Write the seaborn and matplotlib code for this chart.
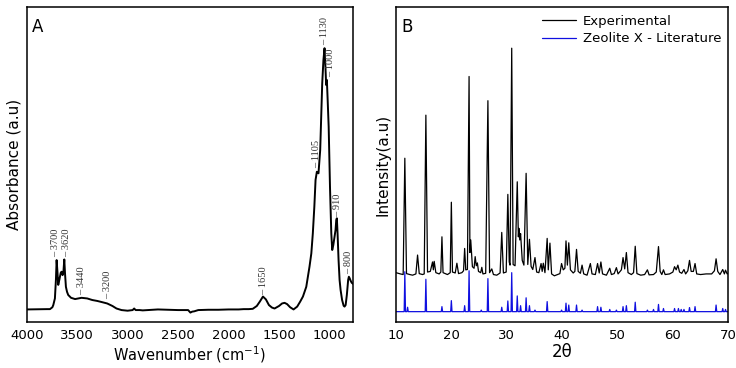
import numpy as np
import pandas as pd
import matplotlib
matplotlib.use("Agg")
import matplotlib.pyplot as plt
import seaborn as sns

# FTIR spectrum (panel A)
ftir_wn = [4000, 3800, 3769, 3745, 3736, 3720, 3710, 3703, 3695, 3687, 3675, 3662,
           3654, 3644, 3635, 3627, 3620, 3611, 3600, 3588, 3560, 3520, 3456, 3400,
           3350, 3300, 3250, 3202, 3150, 3110, 3060, 3000, 2950, 2935, 2920, 2880,
           2850, 2800, 2700, 2600, 2500, 2400, 2378, 2360, 2340, 2300, 2200, 2100,
           2000, 1900, 1850, 1800, 1760, 1720, 1690, 1659, 1630, 1600, 1570, 1544,
           1500, 1470, 1445, 1420, 1390, 1356, 1320, 1290, 1263, 1230, 1198, 1180,
           1165, 1150, 1138, 1125, 1116, 1109, 1092, 1072, 1060, 1049, 1040, 1033,
           1026, 1018, 1008, 995, 982, 973, 962, 950, 940, 933, 927, 920, 910, 900,
           890, 875, 860, 851, 840, 828, 815, 808, 800, 790, 780, 765]
ftir_abs = [3.9, 4.0, 4.0, 4.6, 5.3, 7.4, 13.3, 19.6, 15.9, 11.7, 13.5, 15.6,
            15.9, 14.8, 16.2, 19.8, 15.4, 11.1, 9.5, 8.5, 7.6, 7.2, 7.6, 7.4,
            6.9, 6.6, 6.2, 5.8, 5.0, 4.2, 3.7, 3.5, 3.7, 4.2, 3.7, 3.7,
            3.6, 3.7, 3.9, 3.8, 3.7, 3.7, 2.9, 3.2, 3.3, 3.7, 3.8, 3.8,
            3.9, 3.9, 4.0, 4.0, 4.1, 5.0, 6.4, 8.0, 7.1, 5.3, 4.5, 4.2,
            5.0, 5.8, 6.0, 5.6, 4.6, 3.9, 4.8, 6.4, 8.0, 11.1, 17.5, 21.7,
            28.1, 36.6, 45.1, 47.7, 47.4, 47.2, 54.6, 75.8, 83.2, 87.0, 80.9, 75.3,
            76.9, 70.5, 62.0, 42.9, 28.1, 22.8, 24.4, 27.0, 29.2, 32.3, 32.9, 28.1, 19.6, 13.3,
            10.1, 6.9, 5.1, 4.8, 5.3, 8.5, 13.3, 14.3, 13.8, 13.0, 12.4, 12.0]

ftir_labels = ["3700", "3620", "3440", "3200", "1650", "1105", "1130", "1000", "910", "800"]
ftir_label_wn = [3715, 3608, 3456, 3202, 1649, 1132, 1049, 990, 917, 808]
ftir_label_abs = [20.5, 20.7, 8.5, 7.1, 8.5, 48.8, 88.0, 77.7, 33.4, 15.2]

# XRD pattern (panel B), experimental
exp_2theta = [10.0, 10.8, 11.3, 11.6, 11.9, 12.5, 13.0, 13.6, 13.9, 14.2, 14.8, 15.1,
              15.4, 15.7, 16.2, 16.6, 16.75, 16.9, 17.2, 17.8, 18.1, 18.3, 18.5, 19.3,
              19.8, 20.0, 20.2, 20.7, 21.0, 21.3, 21.9, 22.2, 22.4, 22.6, 22.9, 23.2,
              23.35, 23.5, 23.8, 24.1, 24.3, 24.5, 24.7, 24.9, 25.3, 25.5, 25.7, 26.2,
              26.6, 26.9, 27.3, 27.6, 28.2, 28.8, 29.1, 29.4, 29.9, 30.2, 30.45, 30.6,
              30.9, 31.15, 31.5, 31.9, 32.1, 32.2, 32.35, 32.5, 32.8, 33.1, 33.5, 33.8,
              34.1, 34.4, 34.7, 35.1, 35.4, 35.8, 36.2, 36.4, 36.6, 36.9, 37.3, 37.5,
              37.8, 38.1, 38.6, 39.2, 39.6, 39.9, 40.2, 40.5, 40.7, 40.95, 41.2, 41.5,
              42.0, 42.3, 42.6, 42.9, 43.3, 43.6, 43.9, 44.5, 45.1, 45.4, 46.0, 46.4,
              46.7, 47.0, 47.3, 48.0, 48.6, 48.9, 49.4, 49.8, 50.1, 50.7, 51.0, 51.3,
              51.6, 51.9, 52.5, 52.9, 53.2, 53.5, 54.2, 54.9, 55.4, 55.7, 56.5, 57.0,
              57.4, 57.7, 58.0, 58.3, 58.6, 59.4, 60.0, 60.3, 60.6, 60.9, 61.2, 61.6,
              62.0, 62.3, 62.7, 63.0, 63.3, 63.7, 64.0, 64.3, 65.0, 66.0, 67.0, 67.5,
              67.8, 68.1, 68.5, 69.0, 69.3, 69.5, 69.8, 70.0]
exp_counts = [15.6, 15.2, 15.0, 52.0, 15.3, 15.0, 14.8, 15.2, 21.2, 15.3, 15.0, 15.2,
              65.7, 15.8, 16.0, 19.0, 16.5, 19.2, 15.6, 15.2, 15.8, 27.0, 15.6, 15.0,
              15.6, 38.0, 15.8, 15.5, 18.6, 15.3, 15.6, 16.2, 23.3, 16.5, 16.6, 78.0,
              22.0, 26.0, 17.5, 17.0, 20.7, 17.8, 18.7, 16.0, 15.6, 17.3, 15.2, 15.4,
              70.3, 15.6, 16.8, 15.0, 14.8, 15.5, 28.4, 15.5, 15.8, 40.5, 19.0, 18.0,
              87.0, 18.2, 17.8, 44.5, 27.0, 29.7, 26.0, 28.0, 19.5, 18.0, 47.2, 18.2,
              26.2, 17.6, 16.6, 20.4, 15.8, 15.6, 18.5, 16.0, 18.6, 15.6, 26.5, 16.5,
              25.0, 15.2, 14.6, 15.0, 15.3, 18.5, 16.5, 17.0, 25.7, 18.0, 25.1, 16.5,
              15.5, 16.0, 23.0, 16.0, 15.4, 18.0, 15.2, 14.8, 18.5, 15.2, 15.0, 18.5,
              15.5, 19.0, 15.2, 14.8, 17.0, 15.0, 15.3, 17.2, 15.2, 16.5, 20.4, 16.8,
              22.0, 15.6, 15.0, 15.6, 24.0, 15.3, 14.8, 15.0, 16.5, 14.9, 15.0, 15.8,
              23.9, 16.0, 15.0, 16.5, 15.0, 15.2, 15.8, 17.5, 16.5, 18.0, 15.8, 15.4,
              16.6, 15.2, 16.2, 19.5, 16.0, 16.0, 18.5, 15.2, 15.0, 15.2, 15.2, 16.2,
              20.0, 16.0, 15.0, 16.6, 15.2, 16.4, 15.2, 15.4]

# Zeolite X reference pattern (sticks)
lit_peak_2theta = [11.6, 12.1, 15.4, 18.3, 20.0, 22.4, 23.2, 25.4, 26.6, 29.1, 30.2, 30.9,
                   31.9, 32.5, 33.5, 34.1, 35.1, 37.3, 39.9, 40.7, 41.2, 42.6, 43.6, 46.4,
                   47.0, 48.6, 49.8, 51.0, 51.6, 53.2, 55.4, 56.5, 57.4, 58.3, 60.3, 61.0,
                   61.5, 62.0, 63.0, 64.0, 67.8, 69.0, 69.5]
lit_peak_counts = [15.9, 4.6, 13.5, 4.8, 6.7, 5.1, 16.2, 3.7, 13.7, 4.6, 6.6, 15.6,
                   8.2, 5.1, 7.6, 5.1, 3.7, 6.4, 3.7, 5.9, 5.3, 5.3, 3.7, 4.8,
                   4.6, 3.9, 3.7, 4.8, 5.1, 6.2, 3.7, 3.9, 5.5, 4.2, 4.2, 4.2,
                   3.9, 3.9, 4.5, 4.8, 5.3, 4.2, 3.9]
lit_base = 3.2

sns.set_style("white")
plt.rcParams["font.family"] = ["DejaVu Sans"]
plt.rcParams["text.color"] = "black"
plt.rcParams["axes.labelcolor"] = "black"
plt.rcParams["xtick.color"] = "black"

fig = plt.figure(figsize=(7.36, 3.68), dpi=100)
ax1 = fig.add_axes([0.0362, 0.1258, 0.4437, 0.8543])
ax2 = fig.add_axes([0.538, 0.1258, 0.4515, 0.8543])

# Panel A
ftir = pd.DataFrame({"wn": ftir_wn, "abs": ftir_abs})
sns.lineplot(data=ftir, x="wn", y="abs", ax=ax1, color="black", lw=1.4, sort=False)
ax1.set_xlim(4000, 765)
ax1.set_ylim(0, 100)
ax1.set_xticks([4000, 3500, 3000, 2500, 2000, 1500, 1000])
ax1.set_yticks([])
ax1.set_xlabel("Wavenumber (cm$^{-1}$)", fontsize=10.5, labelpad=2)
ax1.set_ylabel("Absorbance (a.u)", fontsize=11, labelpad=4)
for lab, x, y in zip(ftir_labels, ftir_label_wn, ftir_label_abs):
    ax1.text(x, y, "\u2013 " + lab, rotation=90, ha="center", va="bottom",
             fontsize=7.5, family="Liberation Serif", color="#333333")
ax1.text(0.016, 0.965, "A", transform=ax1.transAxes, fontsize=12, va="top", ha="left")

# Panel B
exp = pd.DataFrame({"tt": exp_2theta, "I": exp_counts})
lit_x, lit_y = [10.0], [lit_base]
for p, h in zip(lit_peak_2theta, lit_peak_counts):
    lit_x += [p - 0.12, p, p + 0.12]
    lit_y += [lit_base, h, lit_base]
lit_x.append(70.0)
lit_y.append(lit_base)
lit = pd.DataFrame({"tt": lit_x, "I": lit_y})
sns.lineplot(data=exp, x="tt", y="I", ax=ax2, color="black", lw=0.9, sort=False,
             label="Experimental")
sns.lineplot(data=lit, x="tt", y="I", ax=ax2, color="#1010e0", lw=0.9, sort=False,
             label="Zeolite X - Literature")
ax2.set_xlim(10, 70)
ax2.set_ylim(0, 100)
ax2.set_xticks([10, 20, 30, 40, 50, 60, 70])
ax2.set_yticks([])
ax2.set_xlabel("2\u03b8", fontsize=12, labelpad=1)
ax2.set_ylabel("Intensity(a.u)", fontsize=11, labelpad=4)
ax2.legend(loc="upper right", frameon=False, fontsize=9.5, handlelength=2.6,
           handletextpad=0.5, labelspacing=0.35, borderaxespad=0.15)
ax2.text(0.015, 0.965, "B", transform=ax2.transAxes, fontsize=12, va="top", ha="left")

for ax in (ax1, ax2):
    ax.tick_params(axis="x", length=0, pad=5, labelsize=9.5)
    for s in ax.spines.values():
        s.set_color("black")
        s.set_linewidth(1.1)

fig.savefig("out.png", dpi=100)
